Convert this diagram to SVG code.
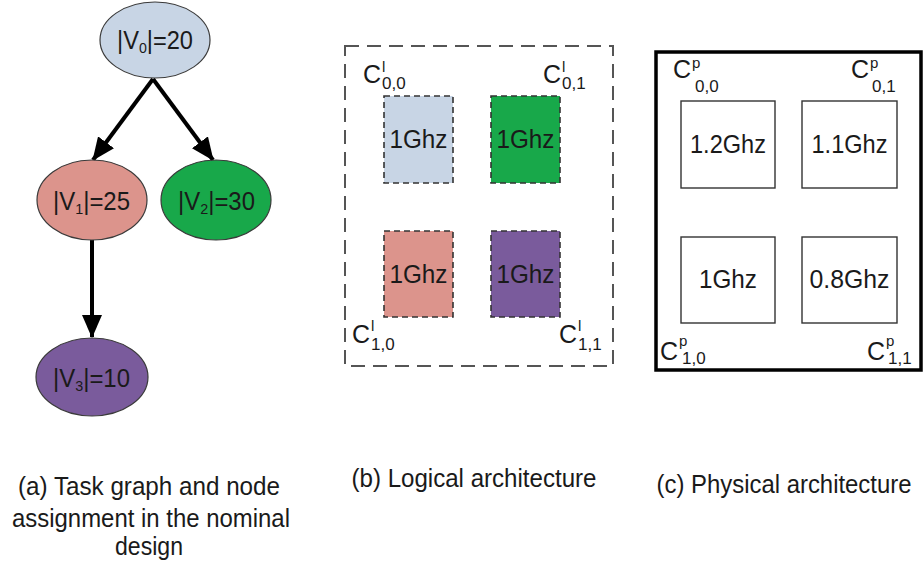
<svg xmlns="http://www.w3.org/2000/svg" width="923" height="577" viewBox="0 0 923 577">
<style>
text{font-family:"Liberation Sans",Arial,sans-serif;fill:#1a1a1a}
.nd{font-size:25px}
.sb{font-size:15px}
.cl{font-size:25px}
.cs{font-size:17px}
.cp{font-size:15px}
.cap{font-size:25px}
.el{stroke:#3a3a3a;stroke-width:1.2}
.lb{stroke:#333;stroke-width:1.6;stroke-dasharray:6 4}
.pb{fill:#fff;stroke:#333;stroke-width:1.4}
.ar{stroke:#000;stroke-width:4;fill:none;marker-end:url(#ah)}
</style>
<defs>
<marker id="ah" markerUnits="userSpaceOnUse" markerWidth="24" markerHeight="20" refX="22" refY="10" orient="auto">
<path d="M0,0 L23,10 L0,20 z" fill="#000"/>
</marker>
</defs>
<rect width="923" height="577" fill="#fff"/>

<g id="connectors">
<line class="ar" x1="153" y1="79" x2="93" y2="160"/>
<line class="ar" x1="153" y1="79" x2="213" y2="160"/>
<line class="ar" x1="92" y1="240" x2="92" y2="337"/>
</g>

<g id="v0">
<ellipse class="el" cx="155" cy="40" rx="55" ry="38" fill="#c8d5e5"/>
<text class="nd" x="117" y="49" textLength="76" lengthAdjust="spacingAndGlyphs">|V<tspan class="sb" dy="4">0</tspan><tspan dy="-4">|=20</tspan></text>
</g>
<g id="v1">
<ellipse class="el" cx="92" cy="200" rx="55" ry="40" fill="#dc948c"/>
<text class="nd" x="53" y="210" textLength="77" lengthAdjust="spacingAndGlyphs">|V<tspan class="sb" dy="4">1</tspan><tspan dy="-4">|=25</tspan></text>
</g>
<g id="v2">
<ellipse class="el" cx="216" cy="200" rx="55" ry="40" fill="#18a84a"/>
<text class="nd" x="178" y="210" textLength="77" lengthAdjust="spacingAndGlyphs">|V<tspan class="sb" dy="4">2</tspan><tspan dy="-4">|=30</tspan></text>
</g>
<g id="v3">
<ellipse class="el" cx="92" cy="377" rx="56" ry="39" fill="#7a5b9c"/>
<text class="nd" x="53" y="387" textLength="77" lengthAdjust="spacingAndGlyphs">|V<tspan class="sb" dy="4">3</tspan><tspan dy="-4">|=10</tspan></text>
</g>

<g id="logical">
<rect x="345" y="46" width="268" height="320" fill="none" stroke="#555" stroke-width="2" stroke-dasharray="14 8"/>
<g id="l00">
<rect class="lb" x="384" y="96" width="69" height="87" fill="#c8d5e5"/>
<text class="nd" x="418.5" y="148" text-anchor="middle" textLength="58" lengthAdjust="spacingAndGlyphs">1Ghz</text>
<text class="cl" x="363" y="83">C<tspan class="cp" x="382" y="72">l</tspan><tspan class="cs" x="382" y="89">0,0</tspan></text>
</g>
<g id="l01">
<rect class="lb" x="491" y="96" width="69" height="87" fill="#18a84a"/>
<text class="nd" x="525.5" y="148" text-anchor="middle" textLength="58" lengthAdjust="spacingAndGlyphs">1Ghz</text>
<text class="cl" x="543" y="83">C<tspan class="cp" x="562" y="72">l</tspan><tspan class="cs" x="562" y="89">0,1</tspan></text>
</g>
<g id="l10">
<rect class="lb" x="384" y="231" width="69" height="86" fill="#dc948c"/>
<text class="nd" x="418.5" y="283" text-anchor="middle" textLength="58" lengthAdjust="spacingAndGlyphs">1Ghz</text>
<text class="cl" x="352" y="343">C<tspan class="cp" x="371" y="331">l</tspan><tspan class="cs" x="371" y="350">1,0</tspan></text>
</g>
<g id="l11">
<rect class="lb" x="491" y="231" width="69" height="86" fill="#7a5b9c"/>
<text class="nd" x="525.5" y="283" text-anchor="middle" textLength="58" lengthAdjust="spacingAndGlyphs">1Ghz</text>
<text class="cl" x="559" y="343">C<tspan class="cp" x="578" y="331">l</tspan><tspan class="cs" x="578" y="350">1,1</tspan></text>
</g>
</g>

<g id="physical">
<rect x="656" y="52" width="265" height="318" fill="none" stroke="#000" stroke-width="3.5"/>
<g id="p00">
<rect class="pb" x="681" y="101" width="94" height="87"/>
<text class="nd" x="728" y="153" text-anchor="middle" textLength="76" lengthAdjust="spacingAndGlyphs">1.2Ghz</text>
<text class="cl" x="673" y="78">C<tspan class="cp" x="692" y="68">p</tspan><tspan class="cs" x="695" y="92">0,0</tspan></text>
</g>
<g id="p01">
<rect class="pb" x="802" y="101" width="95" height="87"/>
<text class="nd" x="849.5" y="153" text-anchor="middle" textLength="76" lengthAdjust="spacingAndGlyphs">1.1Ghz</text>
<text class="cl" x="851" y="78">C<tspan class="cp" x="870" y="68">p</tspan><tspan class="cs" x="872" y="92">0,1</tspan></text>
</g>
<g id="p10">
<rect class="pb" x="681" y="237" width="94" height="86"/>
<text class="nd" x="728" y="288" text-anchor="middle" textLength="58" lengthAdjust="spacingAndGlyphs">1Ghz</text>
<text class="cl" x="660" y="360">C<tspan class="cp" x="679" y="346">p</tspan><tspan class="cs" x="682" y="364">1,0</tspan></text>
</g>
<g id="p11">
<rect class="pb" x="802" y="237" width="95" height="86"/>
<text class="nd" x="849.5" y="288" text-anchor="middle" textLength="80" lengthAdjust="spacingAndGlyphs">0.8Ghz</text>
<text class="cl" x="867" y="360">C<tspan class="cp" x="886" y="346">p</tspan><tspan class="cs" x="888" y="364">1,1</tspan></text>
</g>
</g>

<g id="captions">
<text class="cap" x="149" y="495" text-anchor="middle" textLength="262" lengthAdjust="spacingAndGlyphs">(a) Task graph and node</text>
<text class="cap" x="151" y="527" text-anchor="middle" textLength="278" lengthAdjust="spacingAndGlyphs">assignment in the nominal</text>
<text class="cap" x="149" y="555" text-anchor="middle" textLength="68" lengthAdjust="spacingAndGlyphs">design</text>
<text class="cap" x="474" y="487" text-anchor="middle" textLength="245" lengthAdjust="spacingAndGlyphs">(b) Logical architecture</text>
<text class="cap" x="784" y="493" text-anchor="middle" textLength="255" lengthAdjust="spacingAndGlyphs">(c) Physical architecture</text>
</g>
</svg>
